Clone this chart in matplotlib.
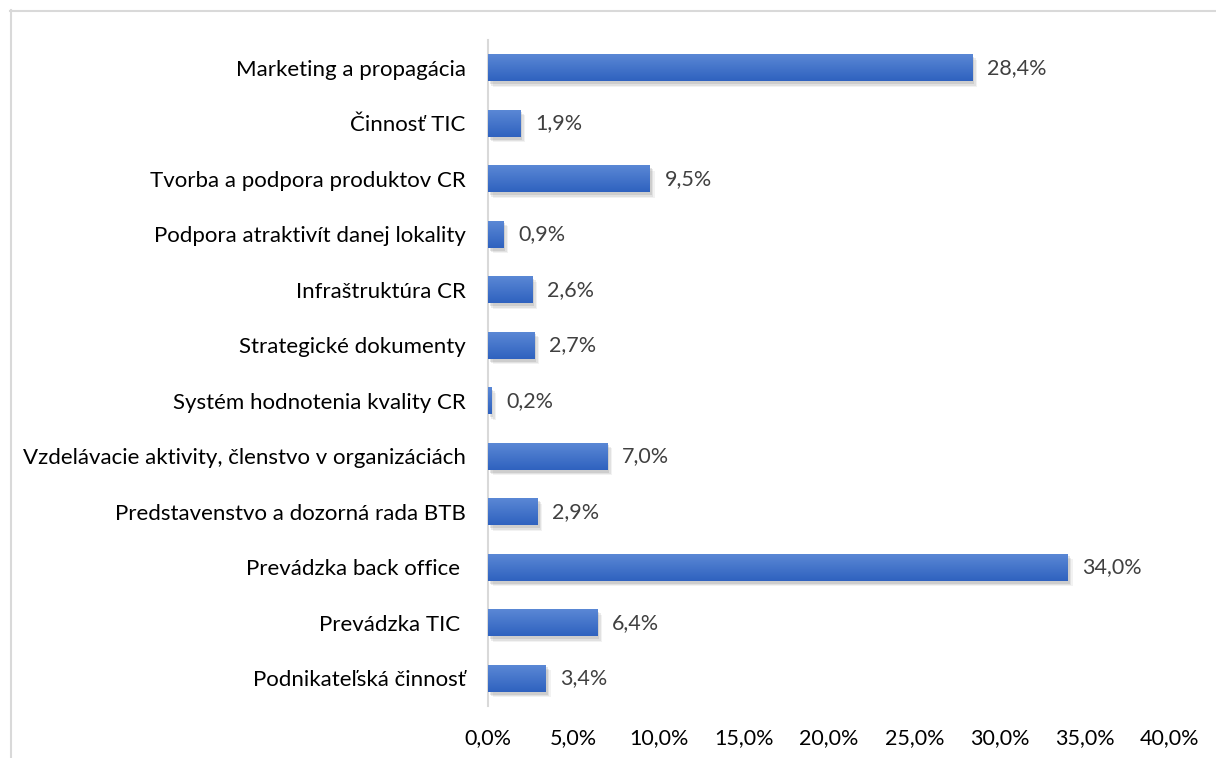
import numpy as np
import matplotlib
matplotlib.use('Agg')
import matplotlib.pyplot as plt
import matplotlib.patheffects as pe
from matplotlib.lines import Line2D

plt.rcParams['font.family'] = ['Lato', 'DejaVu Sans']

# data (top to bottom)
categories = ['Marketing a propagácia', 'Činnosť TIC', 'Tvorba a podpora produktov CR',
              'Podpora atraktivít danej lokality', 'Infraštruktúra CR', 'Strategické dokumenty',
              'Systém hodnotenia kvality CR', 'Vzdelávacie aktivity, členstvo v organizáciách',
              'Predstavenstvo a dozorná rada BTB', 'Prevádzka back office ', 'Prevádzka TIC ',
              'Podnikateľská činnosť']
values = [28.4, 1.9, 9.5, 0.9, 2.6, 2.7, 0.2, 7.0, 2.9, 34.0, 6.4, 3.4]
xticks = [0, 5, 10, 15, 20, 25, 30, 35, 40]

fig = plt.figure(figsize=(12.16, 7.58), dpi=100)
ax = fig.add_axes([488 / 1216, 1 - 706 / 758, 682 / 1216, 666 / 758])

y = np.arange(len(categories))
h = 0.49
shadow = [pe.SimplePatchShadow(offset=(o, -o - 0.5), shadow_rgbFace='#808080', alpha=a)
          for o, a in [(3.5, 0.10), (2.5, 0.15), (1.5, 0.2)]]
bars = ax.barh(y, values, height=h, color='#4472C4', edgecolor='none',
               path_effects=shadow + [pe.Normal()])

# vertical gradient on each bar
top = np.array([0x5C, 0x89, 0xD6]) / 255
bot = np.array([0x2F, 0x62, 0xBF]) / 255
t = np.linspace(0, 1, 64)[:, None]
grad = (top * (1 - t) + bot * t)[:, None, :]
for b, v, yy in zip(bars, values, y):
    im = ax.imshow(grad, extent=[0, v, yy + h / 2, yy - h / 2], aspect='auto',
                   origin='upper', zorder=3)
    im.set_clip_path(b)

for v, yy in zip(values, y):
    ax.annotate(f'{v:.1f}%'.replace('.', ','), (v, yy), xytext=(10.5, 0),
                textcoords='offset points', va='center', ha='left',
                fontsize=15.5, color='#404040')

ax.set_xlim(0, 40)
ax.set_ylim(len(categories) - 0.5, -0.5)
ax.set_xticks(xticks)
ax.set_xticklabels([f'{x:.1f}%'.replace('.', ',') for x in xticks], fontsize=15.5, color='black')
ax.set_yticks(y)
ax.set_yticklabels(categories, fontsize=16, color='black')
ax.tick_params(axis='both', length=0)
ax.tick_params(axis='x', pad=16)
ax.tick_params(axis='y', pad=16)
for s in ['top', 'right', 'bottom']:
    ax.spines[s].set_visible(False)
ax.spines['left'].set_color('#d9d9d9')
ax.spines['left'].set_linewidth(1.5)

# chart frame (cut off at right and bottom)
fig.add_artist(Line2D([10.5 / 1216, 10.5 / 1216], [0, 1 - 10 / 758], transform=fig.transFigure,
                      color='#d9d9d9', lw=1.5))
fig.add_artist(Line2D([10 / 1216, 1], [1 - 10.5 / 758, 1 - 10.5 / 758], transform=fig.transFigure,
                      color='#d9d9d9', lw=1.5))

fig.savefig('out.png', dpi=100)
